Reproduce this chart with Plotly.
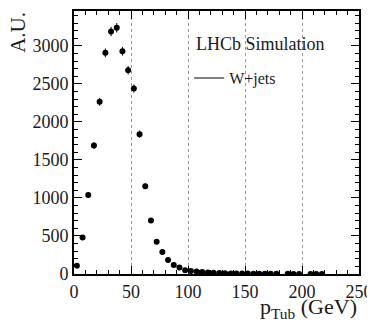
import plotly.graph_objects as go

pt_centers = [2.5, 7.5, 12.5, 17.5, 22.5, 27.5, 32.5, 37.5, 42.5, 47.5,
              52.5, 57.5, 62.5, 67.5, 72.5, 77.5, 82.5, 87.5, 92.5, 97.5,
              102.5, 107.5, 112.5, 117.5, 122.5, 127.5, 132.5, 137.5, 142.5, 147.5,
              152.5, 157.5, 162.5, 167.5, 172.5, 177.5, 187.5, 192.5, 197.5,
              207.5, 212.5, 217.5]
wjets_values = [110, 480, 1040, 1690, 2265, 2910, 3190, 3240, 2930, 2680,
                2440, 1840, 1155, 705, 425, 290, 185, 120, 85, 48,
                40, 32, 25, 20, 16, 13, 10, 8, 7, 6,
                5, 4, 4, 3, 3, 2, 2, 1.5, 1.5,
                1, 1, 1]
wjets_errors = [12, 25, 35, 45, 52, 58, 62, 62, 58, 56,
                53, 47, 37, 29, 22, 18, 14, 11, 9, 7,
                6, 6, 5, 5, 4, 4, 3, 3, 3, 3,
                2, 2, 2, 2, 2, 1, 1, 1, 1,
                1, 1, 1]
x_ticks = [0, 50, 100, 150, 200, 250]
y_ticks = [0, 500, 1000, 1500, 2000, 2500, 3000]

FONT = "Liberation Serif, Times New Roman, Times, serif"
# page body has an 8px default margin, so the figure is 8px smaller
W, H = 367, 314
ml, mr, mt, mb = 65.5, 15.5, 1, 48

fig = go.Figure()
fig.add_trace(go.Scatter(
    x=pt_centers, y=wjets_values,
    error_y=dict(type="data", array=wjets_errors, color="black", thickness=1, width=0),
    mode="markers", marker=dict(color="black", size=6),
    showlegend=False,
))
fig.add_trace(go.Scatter(
    x=[None], y=[None], mode="lines", name="W+jets",
    line=dict(color="#808080", width=2), showlegend=True,
))

axis_common = dict(
    showline=True, linecolor="black", linewidth=2, mirror="ticks",
    ticks="inside", ticklen=8, tickwidth=1, tickcolor="black",
    tickfont=dict(family=FONT, size=18, color="#1a1a1a"),
    zeroline=False,
)
fig.update_xaxes(
    range=[0, 250], tickvals=x_ticks, showgrid=True, gridcolor="#999",
    griddash="dot", gridwidth=1,
    minor=dict(ticks="inside", ticklen=4, dtick=10, tickcolor="black", showgrid=False),
    **axis_common,
)
fig.update_yaxes(
    range=[0, 3460], tickvals=y_ticks, showgrid=False,
    minor=dict(ticks="inside", ticklen=4, dtick=100, tickcolor="black", showgrid=False),
    **axis_common,
)

fig.add_annotation(
    text="A.U.", xref="paper", yref="paper", x=-0.196, y=1.003,
    xanchor="center", yanchor="top", textangle=-90, showarrow=False,
    font=dict(family=FONT, size=21, color="#1a1a1a"),
)
fig.add_annotation(
    text="p<sub>Tub</sub> (GeV)", xref="paper", yref="paper", x=1.0, y=-0.07,
    xanchor="right", yanchor="top", showarrow=False,
    font=dict(family=FONT, size=22, color="#1a1a1a"),
)
fig.add_annotation(
    text="LHCb Simulation", xref="paper", yref="paper", x=0.42, y=0.876,
    xanchor="left", yanchor="middle", showarrow=False,
    font=dict(family=FONT, size=18, color="#1a1a1a"),
)

fig.update_layout(
    width=W, height=H,
    margin=dict(l=ml, r=mr, t=mt, b=mb),
    paper_bgcolor="white", plot_bgcolor="white",
    legend=dict(x=0.404, y=0.745, xanchor="left", yanchor="middle",
                bgcolor="rgba(0,0,0,0)", itemwidth=30,
                font=dict(family=FONT, size=16, color="#1a1a1a")),
)

fig.write_html("out.html")
